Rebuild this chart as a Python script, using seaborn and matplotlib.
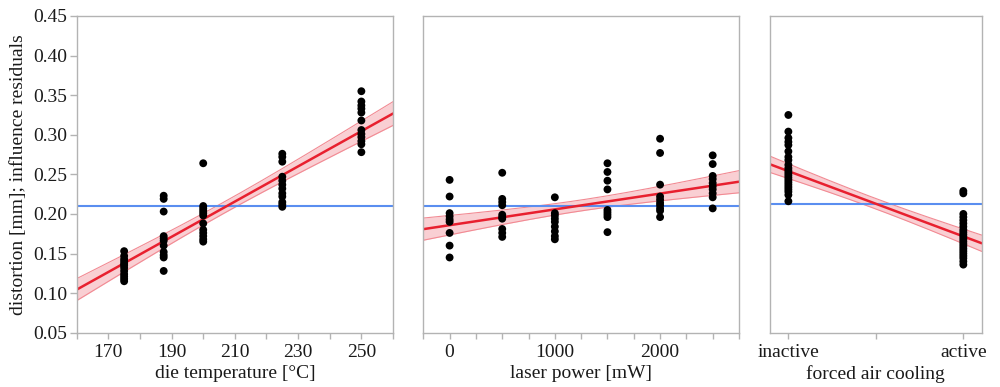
import numpy as np
import pandas as pd
import matplotlib
matplotlib.use("Agg")
import matplotlib.pyplot as plt
import seaborn as sns

# ---------------- data ----------------
# Panel 1: die temperature [°C]
temp_levels = [175, 187.5, 200, 225, 250]
temp_values = [
    [0.153, 0.147, 0.143, 0.140, 0.137, 0.135, 0.132, 0.128, 0.124, 0.121, 0.118, 0.115],
    [0.223, 0.219, 0.203, 0.172, 0.169, 0.166, 0.160, 0.152, 0.148, 0.145, 0.128],
    [0.264, 0.210, 0.207, 0.204, 0.201, 0.198, 0.188, 0.180, 0.176, 0.172, 0.168, 0.165],
    [0.276, 0.272, 0.266, 0.247, 0.242, 0.237, 0.232, 0.226, 0.222, 0.215, 0.212, 0.209],
    [0.355, 0.342, 0.337, 0.333, 0.328, 0.318, 0.306, 0.301, 0.297, 0.292, 0.288, 0.278],
]
temp_fit_x = [160, 260]
temp_fit_y = [0.1044, 0.3268]
temp_band_edge = 0.0150
temp_band_center = 0.0071
temp_band_xc = 207.5
temp_mean = 0.210

# Panel 2: laser power [mW]
power_levels = [0, 500, 1000, 1500, 2000, 2500]
power_values = [
    [0.243, 0.222, 0.201, 0.197, 0.193, 0.190, 0.176, 0.160, 0.145],
    [0.252, 0.219, 0.215, 0.211, 0.199, 0.196, 0.194, 0.181, 0.176, 0.171],
    [0.221, 0.201, 0.198, 0.194, 0.190, 0.184, 0.178, 0.172, 0.168],
    [0.264, 0.253, 0.242, 0.231, 0.205, 0.202, 0.199, 0.196, 0.177],
    [0.295, 0.277, 0.237, 0.222, 0.218, 0.214, 0.211, 0.207, 0.204, 0.196],
    [0.274, 0.263, 0.248, 0.244, 0.239, 0.235, 0.231, 0.226, 0.221, 0.207],
]
power_fit_x = [-250, 2750]
power_fit_y = [0.1808, 0.2407]
power_band_edge = 0.0140
power_band_center = 0.0069
power_band_xc = 1250
power_mean = 0.210

# Panel 3: forced air cooling
cooling_levels = ["inactive", "active"]
cooling_values = [
    [0.325, 0.304, 0.296, 0.291, 0.287, 0.279, 0.272, 0.268, 0.262, 0.258, 0.255,
     0.252, 0.249, 0.246, 0.243, 0.240, 0.237, 0.234, 0.231, 0.228, 0.224, 0.216],
    [0.229, 0.226, 0.200, 0.196, 0.192, 0.188, 0.184, 0.180, 0.177, 0.174, 0.171,
     0.168, 0.165, 0.162, 0.159, 0.156, 0.153, 0.150, 0.147, 0.144, 0.140, 0.136],
]
cooling_fit_x = [-0.105, 1.105]
cooling_fit_y = [0.2627, 0.1630]
cooling_band_edge = 0.0103
cooling_band_center = 0.0066
cooling_band_xc = 0.5
cooling_mean = 0.2125

y_ticks = [0.05, 0.10, 0.15, 0.20, 0.25, 0.30, 0.35, 0.40, 0.45]
y_label = "distortion [mm]; influence residuals"
x_labels = ["die temperature [°C]", "laser power [mW]", "forced air cooling"]

# ---------------- style ----------------
sns.set_theme(style="white")
plt.rcParams["font.family"] = ["Liberation Serif", "DejaVu Serif"]
FS = 14
plt.rcParams["font.size"] = FS

SPINE = "#b3b3b3"
TEXT = "#1a1a1a"
RED = "#e8202f"
BAND = "#f9cfd3"
BAND_EDGE = "#f28a93"
BLUE = "#5a8ef0"


def long_df(levels, values):
    rows = []
    for i, (lvl, vals) in enumerate(zip(levels, values)):
        for v in vals:
            rows.append({"x": lvl, "xi": i, "y": v})
    return pd.DataFrame(rows)


fig = plt.figure(figsize=(10.0, 3.87), dpi=100)
W, H = 1000.0, 387.0
top_px, bot_px = 16.0, 332.7
boxes = [(76.7, 316.3), (423.3, 315.7), (770.0, 211.7)]
axes = []
for left, width in boxes:
    ax = fig.add_axes([left / W, 1 - bot_px / H, width / W, (bot_px - top_px) / H])
    axes.append(ax)


def draw_fit(ax, fx, fy, edge, center, xc):
    xs = np.linspace(fx[0], fx[1], 200)
    slope = (fy[1] - fy[0]) / (fx[1] - fx[0])
    ys = fy[0] + slope * (xs - fx[0])
    dmax = max(abs(fx[0] - xc), abs(fx[1] - xc))
    k2 = (edge ** 2 - center ** 2) / dmax ** 2
    hw = np.sqrt(center ** 2 + k2 * (xs - xc) ** 2)
    ax.fill_between(xs, ys - hw, ys + hw, color=BAND, lw=0, zorder=1)
    ax.plot(xs, ys - hw, color=BAND_EDGE, lw=0.8, zorder=1.5)
    ax.plot(xs, ys + hw, color=BAND_EDGE, lw=0.8, zorder=1.5)
    sns.lineplot(x=xs, y=ys, ax=ax, color=RED, lw=1.8, zorder=2)


# Panel 1
df1 = long_df(temp_levels, temp_values)
ax = axes[0]
ax.axhline(temp_mean, color=BLUE, lw=1.5, zorder=1.8)
draw_fit(ax, temp_fit_x, temp_fit_y, temp_band_edge, temp_band_center, temp_band_xc)
sns.scatterplot(data=df1, x="x", y="y", ax=ax, color="black", s=32,
                edgecolor="none", zorder=3, legend=False)
ax.set_xlim(160, 260)
ax.set_xticks(np.arange(160, 261, 10))
ax.set_xticklabels([str(v) if v in (170, 190, 210, 230, 250) else "" for v in range(160, 261, 10)])

# Panel 2
df2 = long_df(power_levels, power_values)
ax = axes[1]
ax.axhline(power_mean, color=BLUE, lw=1.5, zorder=1.8)
draw_fit(ax, power_fit_x, power_fit_y, power_band_edge, power_band_center, power_band_xc)
sns.scatterplot(data=df2, x="x", y="y", ax=ax, color="black", s=32,
                edgecolor="none", zorder=3, legend=False)
ax.set_xlim(-250, 2750)
ax.set_xticks(np.arange(-250, 2751, 250))
ax.set_xticklabels([str(v) if v in (0, 1000, 2000) else "" for v in range(-250, 2751, 250)])

# Panel 3
df3 = long_df(cooling_levels, cooling_values)
ax = axes[2]
ax.axhline(cooling_mean, color=BLUE, lw=1.5, zorder=1.8)
draw_fit(ax, cooling_fit_x, cooling_fit_y, cooling_band_edge, cooling_band_center, cooling_band_xc)
sns.scatterplot(data=df3, x="xi", y="y", ax=ax, color="black", s=32,
                edgecolor="none", zorder=3, legend=False)
ax.set_xlim(cooling_fit_x[0], cooling_fit_x[1])
ax.set_xticks([0, 0.5, 1])
ax.set_xticklabels([cooling_levels[0], "", cooling_levels[1]])

for i, ax in enumerate(axes):
    ax.set_ylim(0.05, 0.45)
    ax.set_yticks(y_ticks)
    for sp in ax.spines.values():
        sp.set_visible(True)
        sp.set_color(SPINE)
        sp.set_linewidth(1.0)
    ax.tick_params(axis="x", which="both", bottom=True, length=4, width=1,
                   color=SPINE, labelcolor=TEXT, labelsize=FS, pad=4)
    ax.set_xlabel(x_labels[i], color=TEXT, fontsize=FS, labelpad=3)
    if i == 0:
        ax.set_yticklabels([f"{v:.2f}" for v in y_ticks])
        ax.tick_params(axis="y", left=True, length=5, width=1, color=SPINE,
                       labelcolor=TEXT, labelsize=FS, pad=2)
        ax.set_ylabel(y_label, color=TEXT, fontsize=FS, labelpad=4)
    else:
        ax.tick_params(axis="y", left=False, labelleft=False)
        ax.set_ylabel("")
    ax.grid(False)

fig.savefig("out.png", dpi=100, facecolor="white")
